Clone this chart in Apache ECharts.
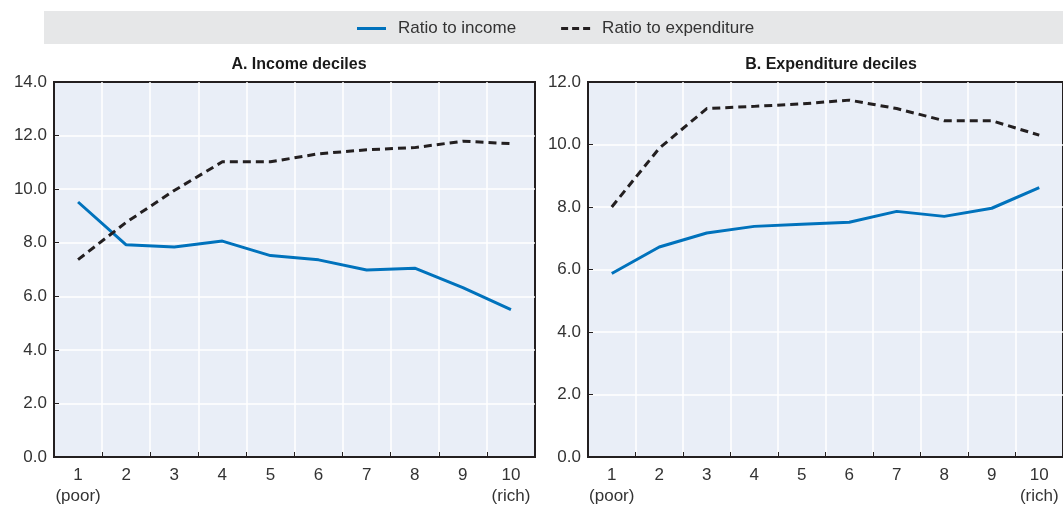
<!DOCTYPE html>
<html><head><meta charset="utf-8">
<script src="https://cdn.jsdelivr.net/npm/echarts@6/dist/echarts.min.js"></script>
<style>html,body{margin:0;padding:0;background:#fff}#c{width:1063px;height:507px}</style>
</head><body><div id="c"></div>
<script>
const categories = ['1\n(poor)','2','3','4','5','6','7','8','9','10\n(rich)'];
const incomeDecilesRatioIncome = [9.52, 7.92, 7.84, 8.06, 7.52, 7.36, 6.98, 7.05, 6.32, 5.5];
const incomeDecilesRatioExpend = [7.37, 8.76, 9.95, 11.02, 11.02, 11.32, 11.47, 11.55, 11.79, 11.7];
const expendDecilesRatioIncome = [5.87, 6.72, 7.17, 7.38, 7.45, 7.51, 7.86, 7.7, 7.96, 8.62];
const expendDecilesRatioExpend = [8.0, 9.88, 11.15, 11.22, 11.3, 11.42, 11.15, 10.76, 10.76, 10.3];
const yTicksA = {min:0, max:14, interval:2};
const yTicksB = {min:0, max:12, interval:2};

const FONT = "'Liberation Sans Narrow','Arial Narrow','Liberation Sans',sans-serif";
const BLUE = '#0072bc', DARK = '#231f20', TXT = '#333333';
const chart = echarts.init(document.getElementById('c'), null, {renderer:'canvas'});
function xAxis(i){
  return {type:'category', gridIndex:i, data:categories, boundaryGap:true,
    axisLine:{lineStyle:{color:DARK,width:2}},
    axisTick:{show:true,inside:true,length:5,lineStyle:{color:DARK,width:1}},
    axisLabel:{color:TXT,fontFamily:FONT,fontSize:17,lineHeight:21,margin:8,interval:0},
    splitLine:{show:true,showMinLine:false,showMaxLine:false,lineStyle:{color:'#ffffff',width:1.5}}};
}
function yAxis(i,t){
  return {type:'value', gridIndex:i, min:t.min, max:t.max, interval:t.interval,
    axisLine:{show:true,lineStyle:{color:DARK,width:2}},
    axisTick:{show:true,inside:true,length:5,lineStyle:{color:DARK,width:1}},
    axisLabel:{color:TXT,fontFamily:FONT,fontSize:17,margin:7,formatter:v=>v.toFixed(1)},
    splitLine:{show:true,showMinLine:false,showMaxLine:false,lineStyle:{color:'#ffffff',width:1.5}}};
}
const grid = {show:true, backgroundColor:'#e9eef7', borderColor:DARK, borderWidth:2};
chart.setOption({
  animation:false,
  textStyle:{fontFamily:FONT},
  graphic:[{type:'rect',shape:{x:44,y:11,width:1030,height:33},style:{fill:'#e6e7e8'},z:-1}],
  title:[
    {text:'A. Income deciles',left:294,top:52,textAlign:'center',textStyle:{fontFamily:FONT,fontSize:16,fontWeight:'bold',color:'#1a1a1a'}},
    {text:'B. Expenditure deciles',left:826,top:52,textAlign:'center',textStyle:{fontFamily:FONT,fontSize:16,fontWeight:'bold',color:'#1a1a1a'}}
  ],
  legend:{left:352,top:15,itemWidth:29,itemHeight:3,itemGap:45,
    textStyle:{fontFamily:FONT,fontSize:17,color:TXT,padding:[0,0,0,7]},
    data:[
      {name:'Ratio to income',icon:'path://M0,0h29v3h-29z',itemStyle:{color:BLUE}},
      {name:'Ratio to expenditure',icon:'path://M0,0h7v3h-7z M11,0h7v3h-7z M22,0h7v3h-7z',itemStyle:{color:DARK}}
    ]},
  grid:[
    Object.assign({left:54,top:82,width:481,bottom:47},grid),
    Object.assign({left:588,top:82,width:479,bottom:47},grid)
  ],
  xAxis:[xAxis(0),xAxis(1)],
  yAxis:[yAxis(0,yTicksA),yAxis(1,yTicksB)],
  series:[
    {name:'Ratio to income',type:'line',xAxisIndex:0,yAxisIndex:0,data:incomeDecilesRatioIncome,symbol:'none',lineStyle:{color:BLUE,width:3},itemStyle:{color:BLUE}},
    {name:'Ratio to expenditure',type:'line',xAxisIndex:0,yAxisIndex:0,data:incomeDecilesRatioExpend,symbol:'none',lineStyle:{color:DARK,width:3,type:[8,5]},itemStyle:{color:DARK}},
    {name:'Ratio to income',type:'line',xAxisIndex:1,yAxisIndex:1,data:expendDecilesRatioIncome,symbol:'none',lineStyle:{color:BLUE,width:3},itemStyle:{color:BLUE}},
    {name:'Ratio to expenditure',type:'line',xAxisIndex:1,yAxisIndex:1,data:expendDecilesRatioExpend,symbol:'none',lineStyle:{color:DARK,width:3,type:[8,5]},itemStyle:{color:DARK}}
  ]
});
</script></body></html>
